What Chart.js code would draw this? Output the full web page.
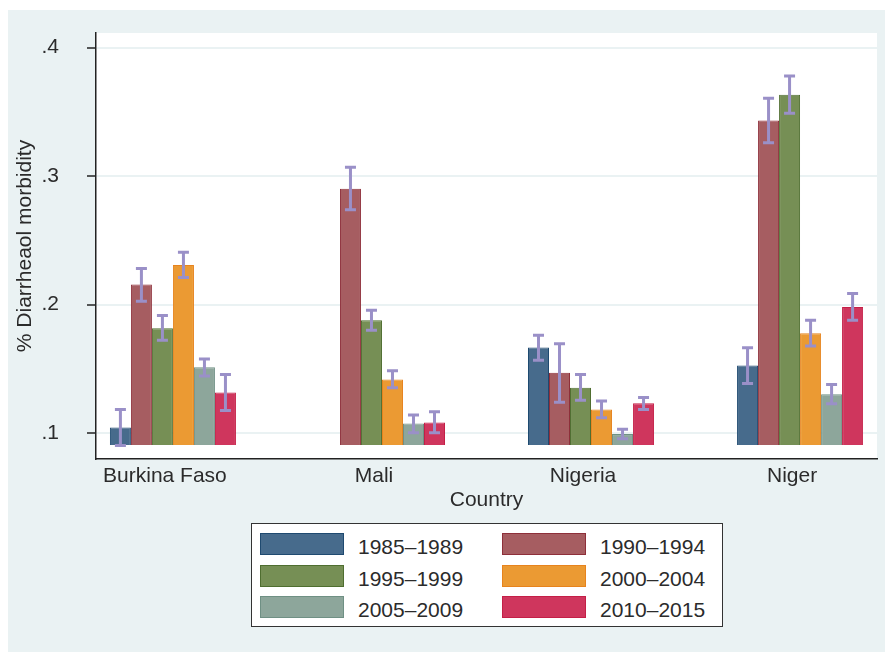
<!DOCTYPE html>
<html>
<head>
<meta charset="utf-8">
<script src="https://cdn.jsdelivr.net/npm/chart.js@4/dist/chart.umd.min.js"></script>
<style>
  html, body { margin: 0; padding: 0; background: #ffffff; width: 885px; height: 652px; overflow: hidden; }
  #bg { position: absolute; left: 8px; top: 10px; width: 877px; height: 642px; background: #eaf2f3; }
  #c { position: absolute; left: 0; top: 0; }
  #legend { position: absolute; left: 251px; top: 523px; width: 470px; height: 102px; background: #fff; border: 1px solid #333; }
  .item { position: absolute; height: 22px; }
  .sw { position: absolute; left: 0; top: 0; width: 82px; height: 20px; border: 1px solid; }
  .lt { position: absolute; left: 98px; top: 2px; line-height: 22px; font: 21px "Liberation Sans", Arial, sans-serif; color: #2b2b2b; white-space: nowrap; }
</style>
</head>
<body>
<div id="bg"></div>
<canvas id="c" width="885" height="652"></canvas>
<div id="legend"></div>
<script>
const categories = ['Burkina Faso', 'Mali', 'Nigeria', 'Niger'];
const seriesLabels = ['1985–1989', '1990–1994', '1995–1999', '2000–2004', '2005–2009', '2010–2015'];

const v1985 = [0.1044, null, 0.1666, 0.1526];
const v1990 = [0.2155, 0.2901, 0.1469, 0.3432];
const v1995 = [0.1816, 0.1878, 0.1352, 0.3632];
const v2000 = [0.2308, 0.1417, 0.1184, 0.1777];
const v2005 = [0.1511, 0.1075, 0.0992, 0.1301];
const v2010 = [0.1316, 0.1083, 0.1231, 0.1981];

const lo1985 = [0.0904, null, 0.1567, 0.1386];
const lo1990 = [0.2026, 0.2738, 0.1239, 0.3259];
const lo1995 = [0.1723, 0.1800, 0.1256, 0.3489];
const lo2000 = [0.2210, 0.1352, 0.1119, 0.1678];
const lo2005 = [0.1443, 0.1002, 0.0956, 0.1228];
const lo2010 = [0.1176, 0.1002, 0.1184, 0.1878];

const hi1985 = [0.1184, null, 0.1761, 0.1663];
const hi1990 = [0.2280, 0.3069, 0.1694, 0.3605];
const hi1995 = [0.1915, 0.1956, 0.1456, 0.3779];
const hi2000 = [0.2406, 0.1484, 0.1249, 0.1878];
const hi2005 = [0.1577, 0.1140, 0.1029, 0.1378];
const hi2010 = [0.1456, 0.1166, 0.1277, 0.2085];

const yTicks = [0.1, 0.2, 0.3, 0.4];
const yTickLabels = ['.1', '.2', '.3', '.4'];

const seriesValues = [v1985, v1990, v1995, v2000, v2005, v2010];
const seriesLows = [lo1985, lo1990, lo1995, lo2000, lo2005, lo2010];
const seriesHighs = [hi1985, hi1990, hi1995, hi2000, hi2005, hi2010];
const fillColors = ['#476b8c', '#a65d61', '#768f55', '#eb9a33', '#8da69b', '#cf365d'];
const edgeColors = ['#1f4a70', '#8e2f3a', '#4f6e30', '#e7831d', '#6f9084', '#c41f47'];

const FONT = '"Liberation Sans", Arial, sans-serif';
const TXT = '#2b2b2b';

const plotBg = {
  id: 'plotBg',
  beforeDraw(chart) {
    const a = chart.chartArea, ctx = chart.ctx;
    ctx.save();
    ctx.fillStyle = '#ffffff';
    ctx.fillRect(a.left, a.top, a.right - a.left, a.bottom - a.top);
    ctx.restore();
  }
};

const errorBars = {
  id: 'errorBars',
  afterDatasetsDraw(chart) {
    const ctx = chart.ctx, ys = chart.scales.y;
    ctx.save();
    ctx.strokeStyle = '#9a90c8';
    ctx.lineWidth = 3;
    seriesLows.forEach((lows, d) => {
      const meta = chart.getDatasetMeta(d);
      meta.data.forEach((bar, i) => {
        const lo = lows[i], hi = seriesHighs[d][i];
        if (lo == null || hi == null) return;
        const x = bar.x, yl = ys.getPixelForValue(lo), yh = ys.getPixelForValue(hi);
        const cw = 5.5;
        ctx.beginPath();
        ctx.moveTo(x, yl); ctx.lineTo(x, yh);
        ctx.moveTo(x - cw, yl); ctx.lineTo(x + cw, yl);
        ctx.moveTo(x - cw, yh); ctx.lineTo(x + cw, yh);
        ctx.stroke();
      });
    });
    ctx.restore();
  }
};

const chart = new Chart(document.getElementById('c'), {
  type: 'bar',
  data: {
    labels: categories,
    datasets: seriesLabels.map((lab, k) => ({
      label: lab,
      data: seriesValues[k],
      base: 0.0907,
      backgroundColor: fillColors[k],
      borderColor: edgeColors[k],
      borderWidth: 1,
      categoryPercentage: 0.603,
      barPercentage: 1.0
    }))
  },
  options: {
    responsive: false,
    animation: false,
    devicePixelRatio: 1,
    layout: { padding: { left: 0, right: 8, top: 33, bottom: 135 } },
    plugins: { legend: { display: false }, tooltip: { enabled: false } },
    scales: {
      x: {
        type: 'category',
        afterBuildTicks(scale) {
          const margin = 0.368;
          scale._startValue = -margin;
          scale._valueRange = categories.length - 1 + 2 * margin;
        },
        afterFit(scale) { scale.height = 58; scale.paddingLeft = 0; scale.paddingRight = 0; },
        grid: { display: false, drawTicks: false },
        border: { display: true, color: '#222', width: 1.5 },
        ticks: { font: { family: FONT, size: 21 }, color: TXT, padding: 5, labelOffset: -8, maxRotation: 0, autoSkip: false },
        title: { display: true, text: 'Country', font: { family: FONT, size: 21 }, color: TXT, padding: { top: 0, bottom: 4 } }
      },
      y: {
        min: 0.0798,
        max: 0.4113,
        afterBuildTicks(scale) { scale.ticks = yTicks.map(v => ({ value: v })); },
        afterFit(scale) { scale.width = 96; scale.paddingTop = 0; scale.paddingBottom = 0; },
        grid: { color: '#eaf2f3', lineWidth: 2, tickColor: '#222', tickWidth: 1.5, tickLength: 9, drawTicks: true },
        border: { display: true, color: '#222', width: 1.5 },
        ticks: {
          font: { family: FONT, size: 21 }, color: TXT, padding: 28,
          callback(value) { const i = yTicks.findIndex(t => Math.abs(t - value) < 1e-9); return i >= 0 ? yTickLabels[i] : ''; }
        },
        title: { display: true, text: '% Diarrheaol morbidity', font: { family: FONT, size: 21 }, color: TXT, padding: { top: 13, bottom: 0 } }
      }
    }
  },
  plugins: [plotBg, errorBars]
});

// Legend built from the same series arrays
const leg = document.getElementById('legend');
chart.data.datasets.forEach((ds, k) => {
  const row = Math.floor(k / 2), col = k % 2;
  const item = document.createElement('div');
  item.className = 'item';
  item.style.left = (8 + col * 242) + 'px';
  item.style.top = (9 + row * 31.5) + 'px';
  const sw = document.createElement('div');
  sw.className = 'sw';
  sw.style.background = ds.backgroundColor;
  sw.style.borderColor = ds.borderColor;
  const t = document.createElement('div');
  t.className = 'lt';
  t.textContent = ds.label;
  item.appendChild(sw); item.appendChild(t);
  leg.appendChild(item);
});
</script>
</body>
</html>
